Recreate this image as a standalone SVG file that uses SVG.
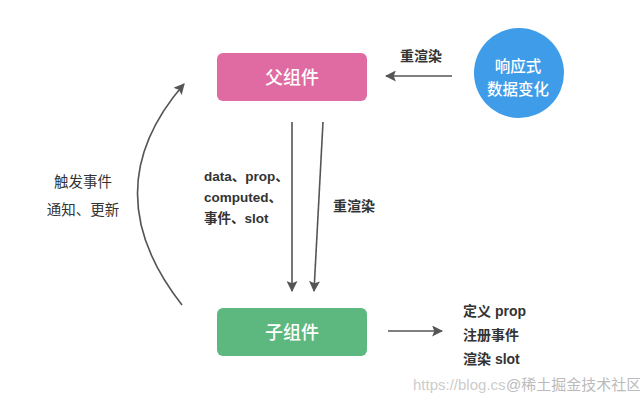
<svg xmlns="http://www.w3.org/2000/svg" width="640" height="404" viewBox="0 0 640 404">
<style>
.lbl{font-family:"Liberation Sans","Noto Sans CJK SC",sans-serif;font-size:14px;fill:#333;font-weight:bold}
.node{font-family:"Noto Sans CJK SC",sans-serif;fill:#fff;text-anchor:middle;font-weight:500}
.edge{stroke:#555;stroke-width:1.6;fill:none}
.wm{font-family:"Liberation Sans","Noto Sans CJK SC",sans-serif;font-size:15px;fill:#ccc}
</style>
<defs>
<marker id="ahb" viewBox="0 0 10 10" refX="9" refY="5" markerWidth="11" markerHeight="11" markerUnits="userSpaceOnUse" orient="auto">
<path d="M0,0 L10,5 L0,10 L2,5 z" fill="#555"/>
</marker>
</defs>
<rect width="640" height="404" fill="#fff"/>
<g id="parent">
<rect x="217" y="53" width="150" height="48" rx="6" fill="#e06aa2"/>
<text class="node" x="292" y="84" font-size="18">父组件</text>
</g>
<g id="child">
<rect x="217" y="308" width="150" height="48" rx="6" fill="#5db87f"/>
<text class="node" x="292" y="339" font-size="18">子组件</text>
</g>
<g id="reactive">
<circle cx="519" cy="73" r="45" fill="#3e9ce8"/>
<text class="node" x="518" y="72" font-size="15.5">响应式</text>
<text class="node" x="518" y="95" font-size="15.5">数据变化</text>
</g>
<g id="connectors">
<line class="edge" x1="452" y1="76" x2="386" y2="76" marker-end="url(#ahb)"/>
<line class="edge" x1="292" y1="122" x2="292" y2="291" marker-end="url(#ahb)"/>
<line class="edge" x1="323" y1="122" x2="314" y2="291" marker-end="url(#ahb)"/>
<path class="edge" d="M182,305 Q92,190 184,84" marker-end="url(#ahb)"/>
<line class="edge" x1="388" y1="331" x2="442" y2="331" marker-end="url(#ahb)"/>
</g>
<g id="labels">
<text class="lbl" x="400" y="61">重渲染</text>
<text class="lbl" x="333" y="211">重渲染</text>
<text class="lbl" x="204" y="181" style="font-size:13.5px">data、prop、</text>
<text class="lbl" x="204" y="202" style="font-size:13.5px">computed、</text>
<text class="lbl" x="204" y="223" style="font-size:13.5px">事件、slot</text>
<text class="lbl" x="83" y="187" text-anchor="middle" style="font-weight:normal;font-size:14.5px">触发事件</text>
<text class="lbl" x="83" y="215" text-anchor="middle" style="font-weight:normal;font-size:14.5px">通知、更新</text>
<text class="lbl" x="463" y="316">定义 prop</text>
<text class="lbl" x="463" y="340">注册事件</text>
<text class="lbl" x="463" y="364">渲染 slot</text>
<text class="wm" x="413" y="390">https://blog.cs</text>
<text class="wm" x="506" y="390" style="fill:#bbb">@稀土掘金技术社区</text>
</g>
</svg>
